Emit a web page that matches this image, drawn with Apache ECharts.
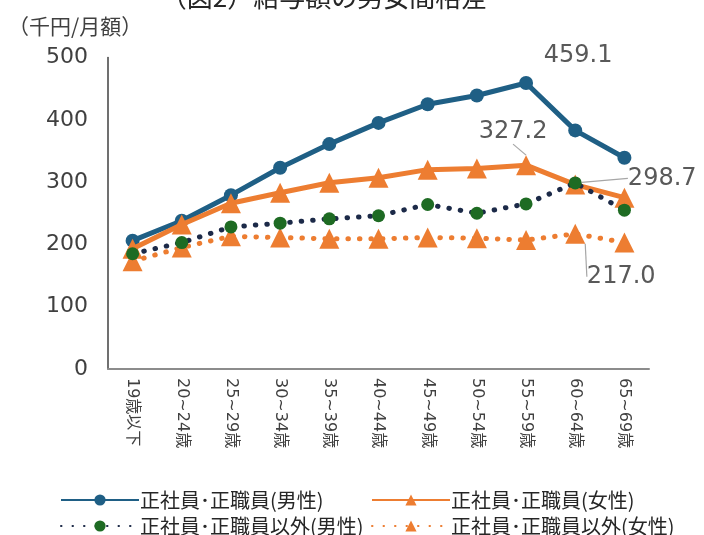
<!DOCTYPE html>
<html>
<head>
<meta charset="utf-8">
<script src="https://cdn.jsdelivr.net/npm/echarts@6/dist/echarts.min.js"></script>
<style>
html,body{margin:0;padding:0;background:#fff;}
#chart{width:704px;height:535px;}
</style>
</head>
<body>
<div id="chart"></div>
<script>
// Age brackets (x axis)
const categories = ['19歳以下','20~24歳','25~29歳','30~34歳','35~39歳','40~44歳','45~49歳','50~54歳','55~59歳','60~64歳','65~69歳'];
// Monthly wage, thousand yen
const maleRegular    = [206, 238, 279, 323, 361, 395, 425, 439, 459.1, 383, 339];
const femaleRegular  = [193, 232, 266, 283, 299, 307, 320, 322, 327.2, 296, 275];
const maleNonReg     = [185, 203, 228, 234, 241, 246, 264, 250, 265, 298.7, 255];
const femaleNonReg   = [173, 195, 213, 211, 209, 209, 211, 210, 207, 217.0, 203];
const seriesNames = ['正社員･正職員(男性)','正社員･正職員(女性)','正社員･正職員以外(男性)','正社員･正職員以外(女性)'];
const yTicks = [0, 100, 200, 300, 400, 500];

const FONT = '"Noto Sans CJK JP","Noto Sans",sans-serif';
const NUMFONT = '"DejaVu Sans","Noto Sans CJK JP",sans-serif';
const BLUE = '#1f5f85', ORANGE = '#ed7d31', NAVY = '#1c2a48', GREEN = '#1e6b23';

// value labels on selected points: offset from the default spot
const labelSpec = {
  0: {8: {dx: 52, dy: -3}},
  1: {8: {dx: -13, dy: -6}},
  2: {9: {dx: 87, dy: 19}},
  3: {9: {dx: 46, dy: 70}}
};

function withLabels(values, si) {
  return values.map((v, i) => {
    if (!labelSpec[si][i]) return v;
    return {value: v, label: {show: true, formatter: (p) => p.value.toFixed(1)}};
  });
}

function layoutFor(si) {
  return function (p) {
    const s = labelSpec[si][p.dataIndex];
    return s ? {dx: s.dx, dy: s.dy} : {};
  };
}

const commonLabel = {show: false, position: 'top', fontSize: 24, color: '#595959', fontFamily: NUMFONT};
const leader = {show: true, lineStyle: {color: '#a6a6a6', width: 1.2}};

const chart = echarts.init(document.getElementById('chart'));
chart.setOption({
  backgroundColor: '#fff',
  animation: false,
  textStyle: {fontFamily: FONT},
  graphic: [
    {type: 'text', x: 324, y: -16, style: {text: '（図2）給与額の男女間格差', font: '26px ' + FONT, fill: '#262626', textAlign: 'center'}},
    {type: 'text', left: 8, top: 16, style: {text: '（千円/月額）', font: '21px ' + FONT, fill: '#404040'}}
  ],
  grid: {left: 108, right: 55, top: 57.5, bottom: 166, containLabel: false},
  xAxis: {
    type: 'category',
    data: categories,
    boundaryGap: true,
    axisLine: {show: true, lineStyle: {color: '#8c8c8c', width: 2}},
    axisTick: {show: false},
    axisLabel: {rotate: -90, interval: 0, margin: 9, color: '#404040', fontSize: 16, fontFamily: NUMFONT}
  },
  yAxis: {
    type: 'value', min: yTicks[0], max: yTicks[yTicks.length - 1], interval: 100,
    axisLine: {show: true, lineStyle: {color: '#404040', width: 1.5}},
    axisTick: {show: false},
    splitLine: {show: false},
    axisLabel: {color: '#404040', fontSize: 22, margin: 20, fontFamily: NUMFONT}
  },
  legend: [
    {data: [seriesNames[0]], left: 55, top: 485},
    {data: [seriesNames[1]], left: 366, top: 485},
    {data: [seriesNames[2]], left: 55, top: 511},
    {data: [seriesNames[3]], left: 366, top: 511}
  ].map(l => Object.assign({
    itemWidth: 78, itemHeight: 14, itemGap: 0,
    textStyle: {fontSize: 20, color: '#262626', fontFamily: FONT, padding: [0, 0, 0, -4]}
  }, l)),
  series: [
    {
      name: seriesNames[0], type: 'line', data: withLabels(maleRegular, 0),
      symbol: 'circle', symbolSize: 14,
      lineStyle: {color: BLUE, width: 5}, itemStyle: {color: BLUE},
      label: commonLabel, labelLayout: layoutFor(0), z: 4
    },
    {
      name: seriesNames[1], type: 'line', data: withLabels(femaleRegular, 1),
      symbol: 'triangle', symbolSize: 20,
      lineStyle: {color: ORANGE, width: 5}, itemStyle: {color: ORANGE},
      label: commonLabel, labelLayout: layoutFor(1), labelLine: leader, z: 5
    },
    {
      name: seriesNames[2], type: 'line', data: withLabels(maleNonReg, 2),
      symbol: 'circle', symbolSize: 13,
      lineStyle: {color: NAVY, width: 5, type: [0.5, 11], cap: 'round'},
      itemStyle: {color: GREEN},
      label: commonLabel, labelLayout: layoutFor(2), labelLine: leader, z: 6
    },
    {
      name: seriesNames[3], type: 'line', data: withLabels(femaleNonReg, 3),
      symbol: 'triangle', symbolSize: 20,
      lineStyle: {color: ORANGE, width: 5, type: [0.5, 11], cap: 'round'},
      itemStyle: {color: ORANGE},
      label: commonLabel, labelLayout: layoutFor(3), labelLine: leader, z: 3
    }
  ]
});
</script>
</body>
</html>
